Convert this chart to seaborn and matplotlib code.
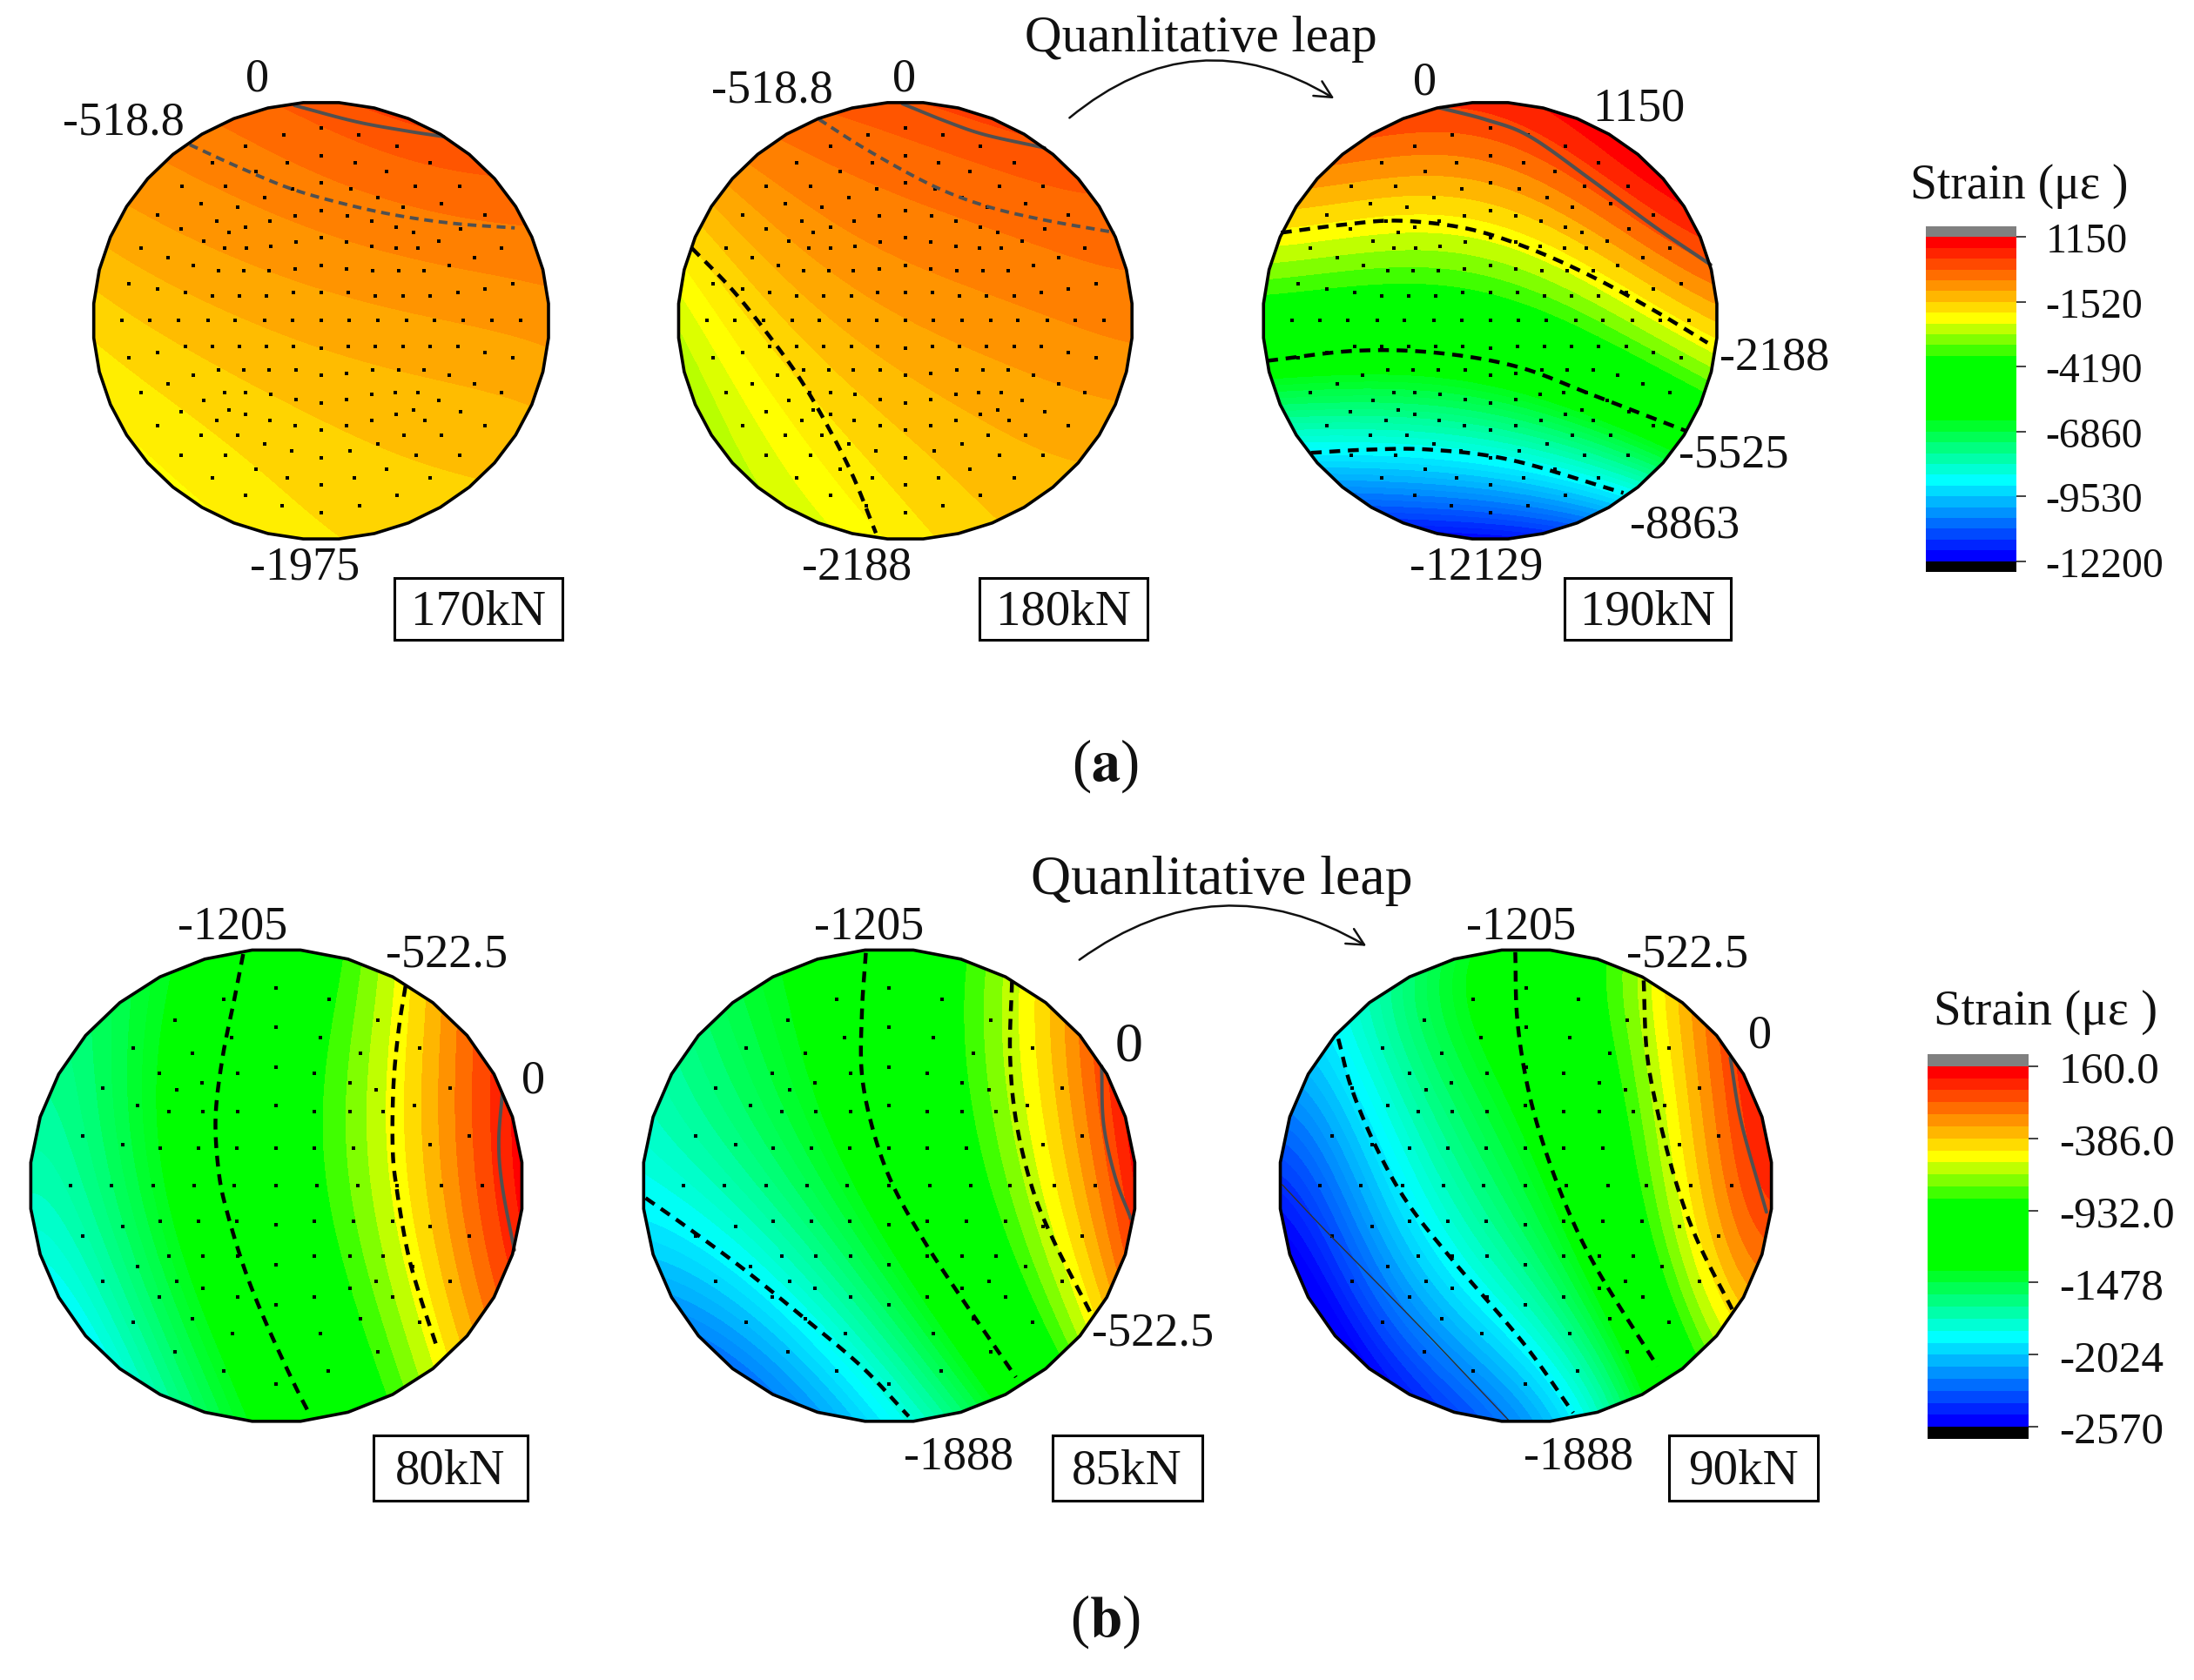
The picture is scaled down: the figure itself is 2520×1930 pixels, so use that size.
import numpy as np
import matplotlib
matplotlib.use("Agg")
import matplotlib.pyplot as plt
from matplotlib.colors import ListedColormap, to_rgb
from matplotlib.patches import Polygon, Rectangle, FancyArrowPatch
import seaborn as sns

sns.set_theme(style="white")
plt.rcParams["font.family"] = ["Liberation Serif", "DejaVu Serif"]
plt.rcParams["mathtext.fontset"] = "stix"

W, H = 2520, 1931
fig = plt.figure(figsize=(W / 100, H / 100), dpi=100, facecolor="white")

# ---------- colour scales ----------
BAND_COLORS = ["#ff0000", "#ff2400", "#ff4900", "#ff6d00", "#ff9200", "#ffb600", "#ffdb00", "#ffff00",
               "#bfff00", "#80ff00", "#40ff00", "#00ff00", "#00ff00", "#00ff00", "#00ff00", "#00ff00",
               "#00ff00", "#00ff2b", "#00ff55", "#00ff80", "#00ffaa", "#00ffd5", "#00ffff", "#00dbff",
               "#00b6ff", "#0092ff", "#006dff", "#0049ff", "#0024ff", "#0000ff"]
FINE_COLORS = ["#ff3c00", "#ff5500", "#ff6a00", "#ff8000", "#ff9400", "#ffa800", "#ffbc00", "#ffd400",
               "#ffee00", "#ffff00", "#dcff00", "#b8ff00"]
FINE_EDGES = [82, -185, -452, -719, -986, -1253, -1520, -1787, -2054, -2321, -2588]
BAR_A_TICKS = ["1150", "-1520", "-4190", "-6860", "-9530", "-12200"]
BAR_B_TICKS = ["160.0", "-386.0", "-932.0", "-1478", "-2024", "-2570"]
STEP_A = 445
TOP_A = 1150
STEP_B = 91
TOP_B = 160

# ---------- mesh points (as read from the first disc of each row) ----------
MESH_A_ROWS = [
    (281, [755]), (298, [649, 861]), (327, [543, 968]), (349, [755]), (368, [448, 661, 850, 1062]),
    (390, [572, 938]), (417, [755]), (427, [363, 487, 1021, 1145]), (432, [675, 838]), (454, [596, 915]),
    (470, [416, 1094]), (479, [520, 986]), (486, [755]), (497, [295, 1216]), (500, [682, 828]),
    (512, [462, 610, 898]), (528, [543, 967]), (532, [361, 1148]), (541, [496, 1015]), (554, [755]),
    (563, [425, 1086]), (566, [685, 827]), (575, [613, 897]), (580, [248, 483, 545, 965, 1027, 1263]),
    (605, [323, 1187]), (625, [396, 755, 1116]), (632, [682, 827]), (637, [467, 538, 608, 900, 973, 1045]),
    (669, [213, 1295]), (682, [295, 1216]), (692, [372, 678, 755, 832, 1139]), (700, [449, 525, 602, 908, 985, 1062]),
    (762, [195, 273, 354, 436, 513, 595, 674, 755, 835, 914, 996, 1073, 1156, 1235, 1317]),
    (826, [372, 449, 525, 602, 678, 832, 908, 985, 1062, 1139]), (830, [755]), (842, [295, 1216]), (855, [213, 1295]),
    (885, [467, 538, 608, 685, 900, 973, 1045]), (894, [827]), (899, [395, 755, 1116]), (920, [323, 1187]),
    (942, [248, 484, 543, 963, 1027, 1263]), (946, [613, 897]), (958, [685, 827]), (962, [425, 1086]), (967, [755]),
    (984, [496, 1015]), (990, [361, 1148]), (995, [543, 967]), (1010, [462, 610, 898, 1047]),
    (1025, [295, 683, 827, 1216]), (1035, [755]), (1048, [416, 520, 988, 1094]), (1070, [596, 915]), (1088, [672, 837]),
    (1097, [362, 487, 1022, 1145]), (1104, [755]), (1132, [572, 938]), (1155, [448, 661, 849, 1062]), (1171, [755]),
    (1197, [543, 968]), (1224, [646, 862]), (1242, [755]),
]
MESH_B_ROWS = [
    (295, [750]), (325, [598, 902]), (376, [456, 1044]), (393, [750]), (420, [620, 878]), (447, [336, 1164]),
    (458, [506, 993]), (493, [750]), (510, [412, 638, 860]), (533, [535, 962]), (546, [248, 1252]), (550, [462, 1038]),
    (590, [349, 748, 1151]), (605, [438, 538, 638, 860, 962, 1060]), (665, [190, 1308]), (687, [305, 1195]),
    (697, [413, 525, 636, 748, 860, 974]), (790, [153, 273, 393, 512, 628, 748, 868, 987, 1100, 1227, 1347]),
    (880, [413, 525, 636, 860, 974, 1087]), (887, [748]), (893, [305, 1195]), (915, [190, 1308]),
    (967, [438, 538, 638, 860, 962, 1060]), (987, [748]), (992, [349, 1145]), (1030, [248, 462, 1038, 1252]),
    (1047, [536, 962]), (1068, [412, 638, 860, 1088]), (1087, [748]), (1122, [506, 993]), (1132, [336, 1164]),
    (1160, [622, 877]), (1205, [456, 1044]), (1253, [598, 900]), (1285, [748]),
]

# ---------- strain fields, 7 x 7 nodes, top row first ----------
A1_FIELD = [[-550, -502, -340, 40, 250, 320, 400],
            [-957, -705, -610, -490, -356, -202, -110],
            [-1350, -1093, -900, -760, -669, -600, -525],
            [-1667, -1449, -1270, -1177, -1030, -962, -900],
            [-2000, -1757, -1563, -1435, -1330, -1264, -1180],
            [-2300, -2060, -1805, -1646, -1557, -1486, -1400],
            [-2600, -2350, -2050, -1835, -1713, -1650, -1600]]
A2_FIELD = [[-450, -380, -200, 90, 300, 350, 400],
            [-1050, -705, -540, -385, -260, -160, -50],
            [-2080, -1160, -860, -680, -555, -430, -320],
            [-2520, -1830, -1200, -1005, -854, -735, -660],
            [-2850, -2275, -1670, -1315, -1140, -1020, -980],
            [-3150, -2545, -2090, -1640, -1426, -1225, -1260],
            [-3450, -2800, -2360, -1930, -1680, -1480, -1480]]
A3_FIELD = [[300, 700, 300, 350, 1150, 1600, 1800],
            [-1000, -700, -1000, -1100, -280, 800, 1300],
            [-2500, -2800, -2850, -2450, -1900, -750, 300],
            [-4450, -4700, -4700, -4400, -3750, -2800, -1600],
            [-6800, -7400, -7000, -6550, -5900, -4900, -3500],
            [-9800, -9300, -9400, -9200, -8650, -7500, -6300],
            [-12500, -11800, -12000, -12100, -11500, -10500, -9500]]
B1_FIELD = [[-1550, -1480, -1360, -1087, -790, -300, 120],
            [-1620, -1500, -1318, -1030, -725, -306, 110],
            [-1680, -1520, -1280, -1004, -687, -290, 100],
            [-1740, -1570, -1290, -1017, -715, -308, 100],
            [-1850, -1670, -1340, -1090, -800, -383, 30],
            [-2050, -1820, -1430, -1204, -880, -490, -80],
            [-2250, -2000, -1600, -1290, -1000, -640, -250]]
B2_FIELD = [[-1650, -1500, -1340, -1100, -860, -360, 200],
            [-1700, -1530, -1370, -1110, -830, -360, 170],
            [-1770, -1600, -1450, -1160, -850, -400, 130],
            [-1870, -1690, -1580, -1215, -980, -490, 90],
            [-2050, -1920, -1740, -1400, -1110, -640, -60],
            [-2250, -2200, -1950, -1640, -1290, -850, -260],
            [-2450, -2500, -2150, -1950, -1560, -1130, -500]]
B3_FIELD = [[-1950, -1750, -1500, -1210, -850, -380, 200],
            [-2050, -1820, -1510, -1200, -860, -320, 150],
            [-2200, -1900, -1620, -1300, -980, -350, 60],
            [-2430, -2100, -1760, -1500, -1110, -490, 60],
            [-2600, -2320, -1880, -1640, -1170, -620, -200],
            [-2800, -2480, -2200, -1880, -1470, -860, -450],
            [-3000, -2650, -2400, -2180, -1700, -1150, -700]]

# ---------- read-off limits of each disc's own coordinates ----------
A1_XLIM, A1_YLIM = (115, 1395), (215, 1305)
A2_XLIM, A2_YLIM = (140, 1335), (132, 1250)
A3_XLIM, A3_YLIM = (72, 800), (215, 1305)
B1_XLIM, B1_YLIM = (40, 1462), (200, 1378)
B2_XLIM, B2_YLIM = (90, 1350), (198, 1342)
B3_XLIM, B3_YLIM = (100, 888), (190, 1305)

# ---------- contour lines, each as (x list, y list) ----------
A1_ZERO = ([680, 850, 990, 1100], [222, 262, 285, 300])
A1_M518 = ([385, 520, 670, 820, 970, 1130, 1300], [320, 375, 430, 468, 497, 517, 528])
A2_ZERO = ([730, 850, 950, 1105], [135, 182, 215, 248])
A2_M518 = ([510, 640, 810, 950, 1100, 1290], [175, 255, 345, 397, 432, 465])
A2_M2188 = ([175, 280, 375, 460, 535, 600, 660], [505, 610, 725, 840, 965, 1090, 1235])
A3_ZERO = ([355, 430, 500, 600, 700, 790], [228, 258, 300, 410, 525, 620])
A3_M2188 = ([100, 200, 290, 400, 500, 600, 700, 785], [540, 520, 510, 530, 580, 650, 735, 815])
A3_M5525 = ([78, 220, 350, 480, 600, 750], [860, 835, 840, 875, 945, 1035])
A3_M8863 = ([148, 240, 340, 470, 650], [1090, 1082, 1082, 1108, 1190])
B1_ZERO = ([1405, 1395, 1405, 1440], [560, 680, 790, 950])
B1_M522 = ([1125, 1105, 1090, 1088, 1100, 1130, 1165, 1215], [290, 400, 540, 700, 800, 950, 1060, 1190])
B1_M1205 = ([655, 630, 595, 575, 585, 610, 660, 720, 800, 850], [210, 320, 470, 620, 760, 860, 1000, 1130, 1280, 1365])
B2_ZERO = ([1265, 1270, 1300, 1340], [480, 620, 750, 850])
B2_M522 = ([1035, 1030, 1045, 1085, 1140, 1240], [275, 450, 610, 770, 900, 1085])
B2_M1205 = ([660, 650, 650, 680, 730, 810, 900, 1045], [205, 350, 500, 640, 770, 905, 1035, 1235])
B2_M1888 = ([95, 200, 350, 500, 650, 770], [800, 870, 975, 1090, 1210, 1330])
B3_ZERO = ([822, 840, 880], [445, 600, 810])
B3_M522 = ([683, 688, 705, 735, 770, 825], [262, 430, 570, 740, 880, 1040])
B3_M1205 = ([477, 480, 495, 520, 560, 610, 705], [195, 350, 500, 640, 800, 950, 1175])
B3_M1888 = ([193, 215, 255, 305, 380, 490, 570], [400, 520, 660, 790, 930, 1120, 1285])
B3_LOW = ([103, 180, 320, 468], [745, 865, 1075, 1305])

GRAY = "#505050"


def ov(x, y):
    return x / 1568, 1 - y / 1202


def mesh_points(rows, xc, yc, rx, ry, xlim, ylim):
    xs, ys = [], []
    cx, cy = sum(xlim) / 2, sum(ylim) / 2
    hx, hy = (xlim[1] - xlim[0]) / 2, (ylim[1] - ylim[0]) / 2
    for yy, row in rows:
        for xx in row:
            xs.append(cx + (xx - xc) / rx * hx)
            ys.append(cy + (yy - yc) / ry * hy)
    return xs, ys


def curve(xs, ys, n=14):
    """Draw a read contour as a rounded curve through its read vertices."""
    p = np.c_[xs, ys].astype(float)
    p = np.vstack([2 * p[0] - p[1], p, 2 * p[-1] - p[-2]])
    out = []
    t = np.linspace(0, 1, n, endpoint=False)[:, None]
    for i in range(1, len(p) - 2):
        a, b, c, d = p[i - 1], p[i], p[i + 1], p[i + 2]
        out.append(0.5 * (2 * b + (c - a) * t + (2 * a - 5 * b + 4 * c - d) * t ** 2 + (3 * b - a - 3 * c + d) * t ** 3))
    out.append(p[-2][None, :])
    out = np.vstack(out)
    return out[:, 0], out[:, 1]


def surface(z, deg=5):
    """Smooth surface through the read nodes, evaluated on a dense display grid."""
    u = np.linspace(-1, 1, z.shape[1])
    v = np.linspace(-1, 1, z.shape[0])
    U, V = np.meshgrid(u, v)
    terms = [(i, j) for i in range(deg + 1) for j in range(deg + 1 - i)]
    A = np.stack([U.ravel() ** i * V.ravel() ** j for i, j in terms], axis=1)
    w = np.where(U.ravel() ** 2 + V.ravel() ** 2 <= 1.25, 1.0, 0.35)
    coef = np.linalg.lstsq(A * w[:, None], z.ravel() * w, rcond=None)[0]
    du = np.linspace(-1, 1, 400)
    DU, DV = np.meshgrid(du, du)
    return du, sum(c * DU ** i * DV ** j for c, (i, j) in zip(coef, terms))


def disc(box, field, xlim, ylim, edges, colors, rows, norm, lines, sides):
    x0, x1, y0, y1 = box
    ax = fig.add_axes([x0 / 1568, 1 - y1 / 1202, (x1 - x0) / 1568, (y1 - y0) / 1202])
    ax.set_xlim(*xlim)
    ax.set_ylim(ylim[1], ylim[0])
    ax.axis("off")
    z = np.array(field, dtype=float)
    du, Z = surface(z)
    cx, cy = sum(xlim) / 2, sum(ylim) / 2
    hx, hy = (xlim[1] - xlim[0]) / 2, (ylim[1] - ylim[0]) / 2
    cs = ax.contourf(cx + du * hx, cy + du * hy, Z, levels=edges, colors=colors)
    ang = (np.arange(sides) + 0.5) * 2 * np.pi / sides
    f = 1 / np.cos(np.pi / sides)
    poly = np.c_[cx + hx * np.cos(ang) * f, cy + hy * np.sin(ang) * f]
    clip = Polygon(poly, closed=True, transform=ax.transData, facecolor="none", edgecolor="none")
    ax.add_patch(clip)
    cs.set_clip_path(clip)
    mx, my = mesh_points(rows, *norm, xlim, ylim)
    sns.scatterplot(x=mx, y=my, ax=ax, color="black", marker="s", s=11, linewidth=0, legend=False, zorder=4)
    for (lx, ly), color, lw, dash in lines:
        kw = {} if dash is None else {"linestyle": (0, dash)}
        sx, sy = curve(lx, ly)
        sns.lineplot(x=sx, y=sy, ax=ax, sort=False, estimator=None, color=color, linewidth=lw,
                     legend=False, zorder=5, **kw)
    ax.add_patch(Polygon(poly, closed=True, facecolor="none", edgecolor="black", linewidth=2.6,
                         clip_on=False, zorder=6))
    ax.set_xlim(*xlim)
    ax.set_ylim(ylim[1], ylim[0])
    return ax


def scale_levels(top, step):
    """Bar bands; below the green plateau every band is split in two, as the discs show."""
    edges, colors = [], []
    for k, c in enumerate(BAND_COLORS):
        lo = top - step * (k + 1)
        if k >= 17:
            prev = np.array(to_rgb(BAND_COLORS[k - 1]))
            cur = np.array(to_rgb(c))
            colors += [tuple(prev * 0.25 + cur * 0.75), tuple(cur * 0.85 + (cur * 0.5 + np.array(to_rgb(BAND_COLORS[min(k + 1, 29)])) * 0.5) * 0.15)]
            edges += [lo + step / 2, lo]
        else:
            colors.append(c)
            edges.append(lo)
    edges = edges[:-1]
    return [-1e6] + edges[::-1] + [1e6], colors[::-1]


fine_levels = [-1e6] + FINE_EDGES[::-1] + [1e6]
fine_colors = FINE_COLORS[::-1]
lev_a, col_a = scale_levels(TOP_A, STEP_A)
lev_b, col_b = scale_levels(TOP_B, STEP_B)
NA = (755, 762, 640, 545)
NB = (750, 790, 711, 589)
DASH_G = (2.6, 1.7)
DASH_K = (2.8, 2.0)
LK = 3.2

disc((67, 392, 74, 386), A1_FIELD, A1_XLIM, A1_YLIM, fine_levels, fine_colors, MESH_A_ROWS, NA,
     [(A1_ZERO, GRAY, 2.8, None), (A1_M518, GRAY, 2.8, DASH_G)], 40)
disc((485, 809, 74, 386), A2_FIELD, A2_XLIM, A2_YLIM, fine_levels, fine_colors, MESH_A_ROWS, NA,
     [(A2_ZERO, GRAY, 2.8, None), (A2_M518, GRAY, 2.8, DASH_G), (A2_M2188, "black", LK, DASH_K)], 40)
disc((903, 1227, 74, 386), A3_FIELD, A3_XLIM, A3_YLIM, lev_a, col_a, MESH_A_ROWS, NA,
     [(A3_ZERO, GRAY, 3.0, None), (A3_M2188, "black", LK, DASH_K), (A3_M5525, "black", LK, DASH_K),
      (A3_M8863, "black", LK, DASH_K)], 40)
disc((22, 373, 680, 1017), B1_FIELD, B1_XLIM, B1_YLIM, lev_b, col_b, MESH_B_ROWS, NB,
     [(B1_ZERO, GRAY, 2.8, None), (B1_M522, "black", LK, DASH_K), (B1_M1205, "black", LK, DASH_K)], 32)
disc((460, 811, 680, 1017), B2_FIELD, B2_XLIM, B2_YLIM, lev_b, col_b, MESH_B_ROWS, NB,
     [(B2_ZERO, GRAY, 2.8, None), (B2_M522, "black", LK, DASH_K), (B2_M1205, "black", LK, DASH_K),
      (B2_M1888, "black", LK, DASH_K)], 32)
disc((915, 1266, 680, 1017), B3_FIELD, B3_XLIM, B3_YLIM, lev_b, col_b, MESH_B_ROWS, NB,
     [(B3_ZERO, GRAY, 2.8, None), (B3_M522, "black", LK, DASH_K), (B3_M1205, "black", LK, DASH_K),
      (B3_M1888, "black", LK, DASH_K), (B3_LOW, "#303030", 1.0, None)], 32)


def label(x, y, s, size=39, **kw):
    fx, fy = ov(x, y + 2)
    fig.text(fx, fy, s, ha="center", va="center", fontsize=size, color="#111111", **kw)


for x, y, s in [(184, 55, "0"), (88, 86, "-518.8"), (218, 404, "-1975"),
                (646, 55, "0"), (552, 63, "-518.8"), (612, 404, "-2188"),
                (1018, 57, "0"), (1171, 76, "1150"), (1268, 254, "-2188"), (1239, 324, "-5525"),
                (1204, 374, "-8863"), (1055, 404, "-12129"),
                (166, 661, "-1205"), (319, 681, "-522.5"), (381, 771, "0"),
                (621, 661, "-1205"), (824, 952, "-522.5"), (685, 1040, "-1888"),
                (1087, 661, "-1205"), (1206, 681, "-522.5"), (1258, 739, "0"), (1128, 1040, "-1888")]:
    label(x, y, s)
label(807, 747, "0", size=46)

for x0, x1, y0, y1, s in [(282, 402, 414, 458, "170kN"), (700, 820, 414, 458, "180kN"), (1118, 1237, 414, 458, "190kN"),
                          (267, 377, 1027, 1074, "80kN"), (752, 859, 1027, 1074, "85kN"), (1193, 1299, 1027, 1074, "90kN")]:
    fx, fy = ov(x0, y1)
    fig.add_artist(Rectangle((fx, fy), (x1 - x0) / 1568, (y1 - y0) / 1202, transform=fig.transFigure,
                             facecolor="white", edgecolor="black", linewidth=2.2))
    label((x0 + x1) / 2, (y0 + y1) / 2, s, size=41)

label(858, 26, "Quanlitative leap", size=42.5)
label(873, 628, "Quanlitative leap", size=46)
for a, b, rad in [((763, 86), (955, 72), -0.36), ((770, 688), (978, 678), -0.33)]:
    fig.add_artist(FancyArrowPatch(ov(*a), ov(*b), transform=fig.transFigure, connectionstyle=f"arc3,rad={rad}",
                                   arrowstyle="->,head_length=14,head_width=7", color="#111111", linewidth=1.8))
for y, s in [(548, "a"), (1160, "b")]:
    fx, fy = ov(790, y)
    fig.text(fx, fy, rf"($\mathbf{{{s}}}$)", ha="center", va="center", fontsize=48, color="#111111")
label(1443, 131, "Strain (με )", size=40)
label(1462, 722, "Strain (με )", size=41)


def colorbar(px, ticks, fs, pad):
    x0, x1, y0, y1 = px
    ax = fig.add_axes([x0 / W, 1 - y1 / H, (x1 - x0) / W, (y1 - y0) / H])
    data = np.arange(32)[:, None]
    cmap = ListedColormap(["#808080"] + BAND_COLORS + ["#000000"])
    sns.heatmap(data, ax=ax, cmap=cmap, cbar=False, xticklabels=False, vmin=-0.5, vmax=31.5)
    ax.yaxis.tick_right()
    ax.set_yticks([1, 7, 13, 19, 25, 31])
    ax.set_yticklabels(ticks, rotation=0, fontsize=fs, color="#111111")
    ax.tick_params(axis="y", length=8, width=1.2, color="#222222", pad=pad, left=False, right=True)
    for sp in ax.spines.values():
        sp.set_visible(False)


colorbar((2212, 2316, 261, 658), BAR_A_TICKS, 34.5, 16)
colorbar((2214, 2330, 1212, 1654), BAR_B_TICKS, 37, 17)

fig.savefig("out.png", dpi=100, facecolor="white")
